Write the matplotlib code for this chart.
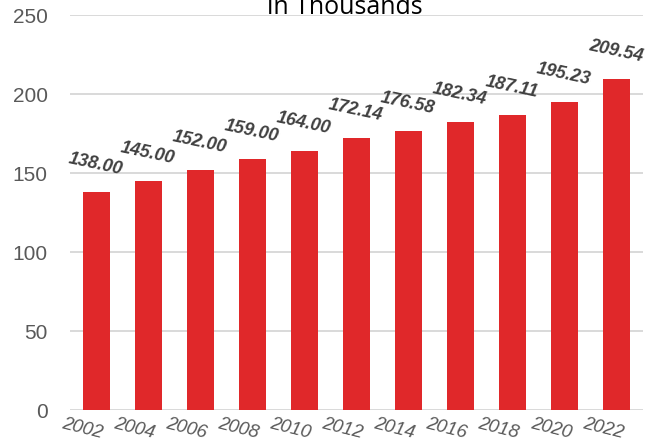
import matplotlib
matplotlib.use("Agg")
import matplotlib.pyplot as plt
from matplotlib.transforms import ScaledTranslation

years = ["2002", "2004", "2006", "2008", "2010", "2012", "2014", "2016", "2018", "2020", "2022"]
values = [138.00, 145.00, 152.00, 159.00, 164.00, 172.14, 176.58, 182.34, 187.11, 195.23, 209.54]
yticks = [0, 50, 100, 150, 200, 250]
title = "in Thousands"

plt.rcParams["font.family"] = ["Liberation Sans", "DejaVu Sans"]

fig = plt.figure(figsize=(6.47, 4.46), dpi=100)
ax = fig.add_axes([70/647, 1-410.3/446, 573/647, (410.3-15.5)/446])

x = list(range(len(years)))
ax.bar(x, values, width=0.52, color="#E0282A", zorder=2)

ax.set_xlim(-0.5, len(years)-0.5)
ax.set_ylim(0, 250)
ax.set_yticks(yticks)
ax.set_yticklabels([str(t) for t in yticks], fontsize=15, color="#595959")
ax.tick_params(axis="y", length=0, pad=16)
ax.tick_params(axis="x", length=0, pad=4)
ax.grid(axis="y", color="#d9d9d9", linewidth=1.4, zorder=1)
ax.set_axisbelow(True)
for s in ax.spines.values():
    s.set_visible(False)

ax.set_xticks(x)
ax.set_xticklabels(years, fontsize=13.5, color="#595959", style="italic",
                   rotation=-14, ha="center", va="top", rotation_mode="default")
off = ScaledTranslation(-14/100, 0, fig.dpi_scale_trans)
for lab in ax.get_xticklabels():
    lab.set_transform(lab.get_transform() + off)

for xi, v in zip(x, values):
    ax.annotate(f"{v:.2f}", (xi, v), xytext=(-1, 28), textcoords="offset pixels",
                ha="center", va="center", fontsize=13, fontweight="bold", style="italic",
                color="#404040", rotation=-12)

fig.text(345/647, 1-14/446, title, ha="center", va="baseline", fontsize=18,
         color="#000000", family=["Open Sans", "DejaVu Sans"])

fig.savefig("out.png", dpi=100)
